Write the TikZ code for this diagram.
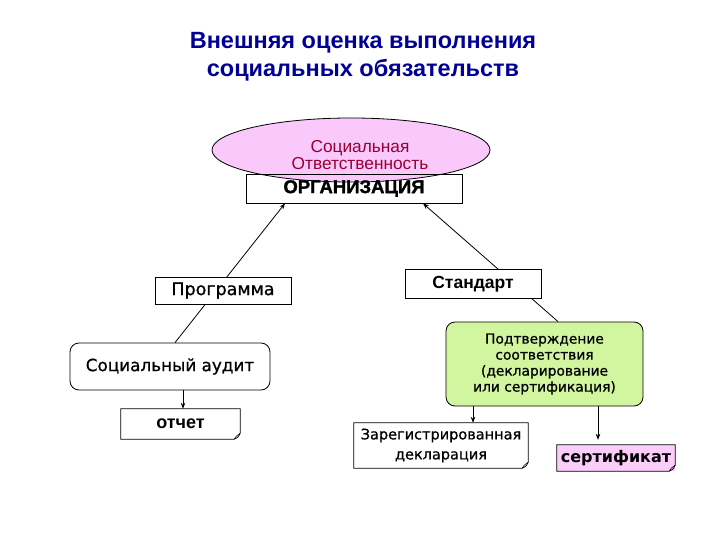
\documentclass[tikz,border=0pt]{standalone}
\usepackage{fontspec}
\setmainfont{Liberation Sans}
\newfontfamily\vfont{DejaVu Sans}
\newfontfamily\vfontm[FakeBold=0.8]{DejaVu Sans}
\newfontfamily\heavyfont[FakeBold=1.5]{Liberation Sans Bold}
\usetikzlibrary{arrows.meta,positioning,shapes.geometric}
\definecolor{titleblue}{RGB}{0,0,150}
\definecolor{respred}{RGB}{150,0,50}
\definecolor{resppink}{RGB}{250,200,250}
\definecolor{certpink}{RGB}{250,205,250}
\definecolor{confgreen}{RGB}{210,245,160}
\tikzset{
  box/.style={draw,fill=white,line width=0.8pt,inner sep=0pt,align=center},
  roundbox/.style={box,rounded corners=9pt},
  paper/.style={fill=white,inner sep=0pt,align=center},
  arr/.style={-{Stealth[length=6pt,width=4.5pt]},line width=0.8pt}
}
% box with a folded bottom-right corner
\newcommand{\foldcorner}[1]{%
  \draw[line width=0.8pt] (#1.north west) -- (#1.north east) -- ([yshift=6]#1.south east)
    .. controls ([xshift=-2,yshift=2]#1.south east) .. ([xshift=-6]#1.south east) -- (#1.south west) -- cycle;
  \draw[line width=0.5pt] ([yshift=6]#1.south east) -- ([xshift=-4,yshift=3]#1.south east) -- ([xshift=-6]#1.south east);
}
\begin{document}
\begin{tikzpicture}[x=1pt,y=-1pt]
  \useasboundingbox (0,0) rectangle (720,540);

  % title
  \node[text=titleblue,align=center,font=\fontsize{23.5}{28}\selectfont\bfseries] (title) at (363,57)
    {Внешняя оценка выполнения\\социальных обязательств};

  % organisation
  \node[draw,ellipse,fill=resppink,line width=0.8pt,minimum width=278,minimum height=64,inner sep=0pt] (resp) at (351,150) {};
  \node[text=respred,align=center,font=\fontsize{17.3}{17.5}\selectfont] (resptext) at (360,155)
    {Социальная\\Ответственность};
  \node[draw,line width=0.8pt,minimum width=216,minimum height=29,inner sep=0pt,
        font=\heavyfont\fontsize{18.5}{19}\selectfont] (org) at (354,188.5) {ОРГАНИЗАЦИЯ};

  % lower boxes
  \node[roundbox,minimum width=200,minimum height=47,font=\vfontm\fontsize{16.8}{18}\selectfont] (audit) at (170,366.5) {Социальный аудит};
  \node[roundbox,fill=confgreen,minimum width=197,minimum height=84,font=\vfontm\fontsize{13.8}{16}\selectfont] (confirm) at (544.5,364)
    {Подтверждение\\соответствия\\(декларирование\\или сертификация)};
  \node[paper,minimum width=119,minimum height=30,font=\fontsize{18}{17}\selectfont\bfseries] (report) at (180.5,424) {отчет};
  \foldcorner{report}
  \node[paper,minimum width=174,minimum height=45,font=\vfontm\fontsize{14.5}{20}\selectfont] (decl) at (441,445.5)
    {Зарегистрированная\\декларация};
  \foldcorner{decl}
  \node[paper,fill=certpink,minimum width=118,minimum height=26,font=\vfont\fontsize{16}{17}\selectfont\bfseries] (cert) at (616,458) {сертификат};
  \foldcorner{cert}

  % connectors
  \draw[arr] ([xshift=5]audit.north) -- ([xshift=-69]org.south);
  \draw[arr] ([xshift=13.5]confirm.north) -- ([xshift=69]org.south);
  \draw[arr] ([xshift=13]audit.south) -- ([xshift=13]audit.south |- report.north);
  \draw[arr] ([xshift=-71.5]confirm.south) -- ([xshift=-71.5]confirm.south |- decl.north);
  \draw[arr] ([xshift=53.5]confirm.south) -- ([xshift=53.5,yshift=5]confirm.south |- cert.north);

  % boxes lying over the connectors
  \node[box,minimum width=136,minimum height=27,font=\vfontm\fontsize{17.5}{17}\selectfont] (prog) at (223,290.5) {Программа};
  \node[box,minimum width=136,minimum height=29,font=\fontsize{17.5}{18}\selectfont\bfseries] (std) at (473,284) {Стандарт};
\end{tikzpicture}
\end{document}
